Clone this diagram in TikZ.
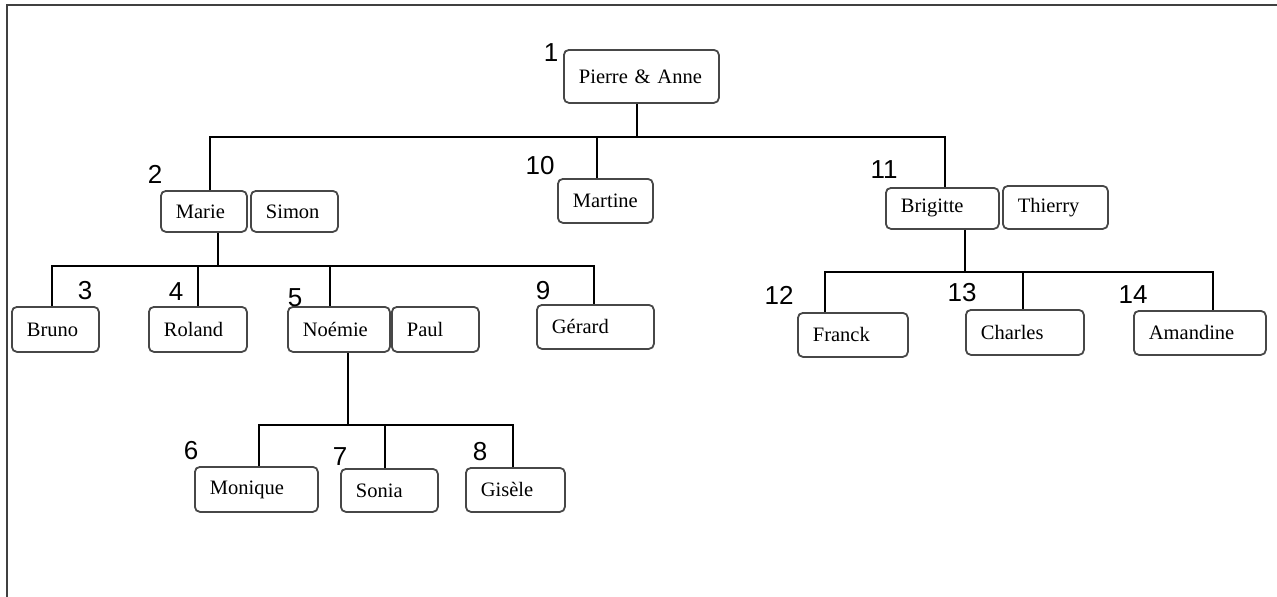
\documentclass[tikz,border=0pt]{standalone}
\usepackage{fontspec}
\setmainfont{Liberation Serif}
\newfontfamily\numfont{Liberation Sans}
\begin{document}
\begin{tikzpicture}[x=1pt,y=-1pt,
  fbox/.style={draw=black!72, line width=1.8pt, rounded corners=5pt, inner xsep=15pt, inner ysep=0pt, anchor=north west, align=left, font=\fontsize{20.5}{22}\selectfont},
  num/.style={inner sep=0pt, font=\numfont\fontsize{26}{28}\selectfont},
  link/.style={line width=1.5pt, black},
  frame/.style={line width=2pt, black!75}]
\useasboundingbox (0,0) rectangle (1277,597);
\draw[frame] (7,597) -- (7,5) -- (1277,5);

% boxes
\node[fbox, text width=125pt, minimum height=53pt] (pa) at (563,49) {Pierre \& Anne};
\node[fbox, text width=56pt, minimum height=41pt] (marie) at (160,190) {Marie};
\node[fbox, text width=57pt, minimum height=41pt] (simon) at (250,190) {Simon};
\node[fbox, text width=65pt, minimum height=44pt] (mart) at (557,178) {Martine};
\node[fbox, text width=83pt, minimum height=41pt] (brig) at (885,187) {Brigitte};
\node[fbox, text width=75pt, minimum height=43pt] (thi) at (1002,185) {Thierry};
\node[fbox, text width=57pt, minimum height=45pt] (bruno) at (11,306) {Bruno};
\node[fbox, text width=68pt, minimum height=45pt] (roland) at (148,306) {Roland};
\node[fbox, text width=72pt, minimum height=45pt] (noemie) at (287,306) {Noémie};
\node[fbox, text width=57pt, minimum height=45pt] (paul) at (391,306) {Paul};
\node[fbox, text width=87pt, minimum height=44pt] (gerard) at (536,304) {Gérard};
\node[fbox, text width=93pt, minimum height=45pt] (moni) at (194,466) {Monique};
\node[fbox, text width=67pt, minimum height=43pt] (sonia) at (340,468) {Sonia};
\node[fbox, text width=69pt, minimum height=44pt] (gisele) at (465,467) {Gisèle};
\node[fbox, text width=80pt, minimum height=44pt] (franck) at (797,312) {Franck};
\node[fbox, text width=88pt, minimum height=45pt] (charles) at (965,309) {Charles};
\node[fbox, text width=102pt, minimum height=44pt] (amand) at (1133,310) {Amandine};

% level 1
\coordinate (s1) at (637,137);
\coordinate (j1a) at (210,137);
\coordinate (j1b) at (597,137);
\coordinate (j1c) at (945,137);
\draw[link] (pa.south -| s1) -- (s1);
\draw[link] (j1a |- marie.north) -- (j1a) -- (j1c) -- (j1c |- brig.north);
\draw[link] (j1b) -- (j1b |- mart.north);

% Marie's children
\coordinate (s2) at (218,266);
\coordinate (j2a) at (52,266);
\coordinate (j2b) at (198,266);
\coordinate (j2c) at (330,266);
\coordinate (j2d) at (594,266);
\draw[link] (marie.south -| s2) -- (s2);
\draw[link] (j2a |- bruno.north) -- (j2a) -- (j2d) -- (j2d |- gerard.north);
\draw[link] (j2b) -- (j2b |- roland.north);
\draw[link] (j2c) -- (j2c |- noemie.north);

% Noemie's children
\coordinate (s3) at (348,425);
\coordinate (j3a) at (259,425);
\coordinate (j3b) at (385,425);
\coordinate (j3c) at (513,425);
\draw[link] (noemie.south -| s3) -- (s3);
\draw[link] (j3a |- moni.north) -- (j3a) -- (j3c) -- (j3c |- gisele.north);
\draw[link] (j3b) -- (j3b |- sonia.north);

% Brigitte's children
\coordinate (s4) at (965,272);
\coordinate (j4a) at (825,272);
\coordinate (j4b) at (1023,272);
\coordinate (j4c) at (1213,272);
\draw[link] (brig.south -| s4) -- (s4);
\draw[link] (j4a |- franck.north) -- (j4a) -- (j4c) -- (j4c |- amand.north);
\draw[link] (j4b) -- (j4b |- charles.north);

% numbers
\node[num] (n1) at (551,53) {1};
\node[num] (n2) at (155,174) {2};
\node[num] (n3) at (85,291) {3};
\node[num] (n4) at (176,292) {4};
\node[num] (n5) at (295,298) {5};
\node[num] (n6) at (191,451) {6};
\node[num] (n7) at (340,457) {7};
\node[num] (n8) at (480,452) {8};
\node[num] (n9) at (543,291) {9};
\node[num] (n10) at (540,166) {10};
\node[num] (n11) at (884,170) {11};
\node[num] (n12) at (779,295) {12};
\node[num] (n13) at (962,293) {13};
\node[num] (n14) at (1133,295) {14};
\end{tikzpicture}
\end{document}
